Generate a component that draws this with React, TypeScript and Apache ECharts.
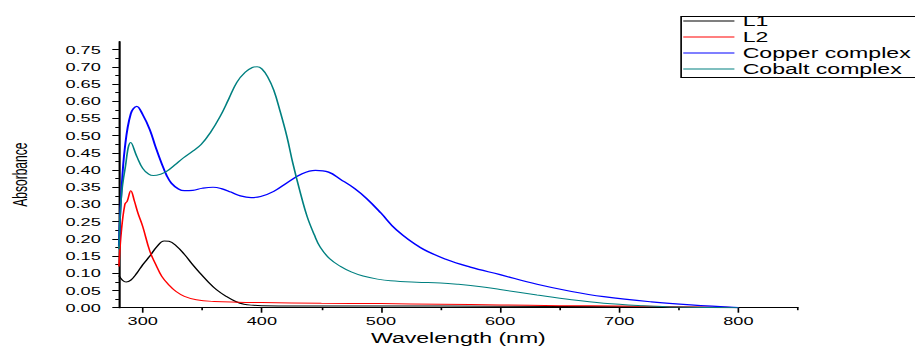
import React, { useEffect, useRef } from "react";
import * as echarts from "echarts";

// ---- data ----
const l1Wavelength = [280, 283, 286, 290, 295, 300, 306, 312, 318, 322, 328, 335, 342, 348, 355, 362, 370, 378, 385, 393, 400, 450, 500, 600, 700, 800];
const l1Absorbance = [0.093, 0.08, 0.075, 0.08, 0.1, 0.125, 0.15, 0.178, 0.194, 0.193, 0.18, 0.155, 0.125, 0.101, 0.075, 0.052, 0.033, 0.018, 0.01, 0.007, 0.006, 0.005, 0.005, 0.004, 0.003, 0.0];

const l2Wavelength = [280, 282, 285, 287, 290, 293, 296, 300, 306, 311, 316, 322, 328, 335, 345, 360, 380, 400, 450, 500, 550, 600, 650, 700, 750, 790, 800];
const l2Absorbance = [0.12, 0.22, 0.3, 0.31, 0.34, 0.31, 0.275, 0.236, 0.164, 0.125, 0.091, 0.066, 0.047, 0.033, 0.023, 0.018, 0.016, 0.015, 0.013, 0.012, 0.01, 0.008, 0.006, 0.005, 0.003, 0.001, 0.0];

const copperWavelength = [280, 282, 285, 290, 295, 300, 306, 311, 316, 320, 324, 330, 335, 342, 350, 359, 366, 374, 382, 391, 399, 410, 422, 433, 445, 456, 466, 478, 488, 500, 513, 533, 555, 575, 600, 631, 660, 687, 727, 760, 800];
const copperAbsorbance = [0.18, 0.33, 0.464, 0.564, 0.585, 0.561, 0.517, 0.465, 0.418, 0.385, 0.362, 0.345, 0.34, 0.341, 0.347, 0.35, 0.346, 0.336, 0.325, 0.32, 0.323, 0.338, 0.365, 0.388, 0.399, 0.394, 0.373, 0.346, 0.317, 0.275, 0.226, 0.175, 0.14, 0.118, 0.096, 0.068, 0.047, 0.032, 0.017, 0.008, 0.0];

const cobaltWavelength = [280, 282, 285, 290, 295, 300, 305, 309, 315, 320, 327, 334, 342, 349, 357, 365, 372, 379, 386, 392, 396, 400, 405, 410, 415, 421, 426, 432, 438, 444, 449, 457, 466, 475, 485, 497, 508, 530, 550, 565, 584, 600, 631, 660, 687, 720, 750, 800];
const cobaltAbsorbance = [0.17, 0.32, 0.4, 0.48, 0.44, 0.405, 0.388, 0.384, 0.388, 0.396, 0.415, 0.435, 0.455, 0.474, 0.51, 0.556, 0.605, 0.655, 0.684, 0.698, 0.7, 0.694, 0.67, 0.632, 0.575, 0.498, 0.42, 0.338, 0.265, 0.212, 0.176, 0.142, 0.12, 0.104, 0.092, 0.083, 0.078, 0.074, 0.072, 0.068, 0.061, 0.053, 0.037, 0.023, 0.013, 0.006, 0.002, 0.0];

const seriesNames = ["L1", "L2", "Copper complex", "Cobalt complex"];
const seriesColors = ["#000000", "#ff0000", "#0000ff", "#008080"];

const xMajorTicks = [300, 400, 500, 600, 700, 800];
const xMinorTicks = [350, 450, 550, 650, 750, 850];
const yMajorTicks = [0, 0.05, 0.1, 0.15, 0.2, 0.25, 0.3, 0.35, 0.4, 0.45, 0.5, 0.55, 0.6, 0.65, 0.7, 0.75];
const yMinorTicks = [0.025, 0.075, 0.125, 0.175, 0.225, 0.275, 0.325, 0.375, 0.425, 0.475, 0.525, 0.575, 0.625, 0.675, 0.725];

const zip = (xs: number[], ys: number[]) => xs.map((x, i) => [x, ys[i]]);

// the reference picture is horizontally stretched; draw narrow and stretch
const S = 1.65;
const W = 915 / S;
const H = 347;
const FONT = "'Liberation Sans', Arial, sans-serif";

export default function App() {
  const ref = useRef<HTMLDivElement>(null);

  useEffect(() => {
    if (!ref.current) return;
    const chart = echarts.init(ref.current, null, { renderer: "svg" });
    const gridLeft = 118.9 / S;
    const gridWidth = 679 / S;
    const datasets = [
      zip(l1Wavelength, l1Absorbance),
      zip(l2Wavelength, l2Absorbance),
      zip(copperWavelength, copperAbsorbance),
      zip(cobaltWavelength, cobaltAbsorbance),
    ];
    chart.setOption({
      animation: false,
      backgroundColor: "#ffffff",
      textStyle: { fontFamily: FONT, color: "#000" },
      grid: { left: gridLeft, top: 41.7, width: gridWidth, height: 266, containLabel: false, outerBoundsMode: "none" },
      legend: {
        data: seriesNames,
        orient: "vertical",
        left: 414.1,
        top: 13,
        padding: 0,
        itemGap: 0,
        itemWidth: 31,
        itemHeight: 1.2,
        icon: "rect",
        textStyle: { fontSize: 14, lineHeight: 16, color: "#000", fontFamily: FONT },
      },
      graphic: [
        {
          type: "rect",
          left: 410.3,
          top: 14,
          shape: { width: 200, height: 61 },
          style: { fill: "none", stroke: "#000", lineWidth: 1 },
          silent: true,
        },
      ],
      xAxis: [
        {
          type: "value",
          min: 280,
          max: 850,
          position: "bottom",
          name: "Wavelength (nm)",
          nameLocation: "middle",
          nameGap: 24,
          nameTextStyle: { fontSize: 14, color: "#000", fontFamily: FONT },
          axisLine: { show: true, onZero: false, lineStyle: { color: "#000", width: 1.2 } },
          axisTick: { show: true, customValues: xMajorTicks, length: 5, lineStyle: { color: "#000", width: 1 } },
          axisLabel: { show: true, customValues: xMajorTicks, fontSize: 11, margin: 8, color: "#000", fontFamily: FONT },
          splitLine: { show: false },
        },
        {
          type: "value",
          min: 280,
          max: 850,
          position: "bottom",
          axisLine: { show: false },
          axisTick: { show: true, customValues: xMinorTicks, length: 2.5, lineStyle: { color: "#000", width: 1 } },
          axisLabel: { show: false },
          splitLine: { show: false },
        },
      ],
      yAxis: [
        {
          type: "value",
          min: 0,
          max: 0.773,
          position: "left",
          name: "Absorbance",
          nameLocation: "middle",
          nameGap: 54,
          nameTextStyle: { fontSize: 12, color: "#000", fontFamily: FONT },
          axisLine: { show: true, onZero: false, lineStyle: { color: "#000", width: 1.3 } },
          axisTick: { show: true, customValues: yMajorTicks, length: 4, lineStyle: { color: "#000", width: 1 } },
          axisLabel: {
            show: true,
            customValues: yMajorTicks,
            fontSize: 11,
            margin: 11,
            color: "#000",
            fontFamily: FONT,
            formatter: (v: number) => v.toFixed(2),
          },
          splitLine: { show: false },
        },
        {
          type: "value",
          min: 0,
          max: 0.773,
          position: "left",
          axisLine: { show: false },
          axisTick: { show: true, customValues: yMinorTicks, length: 2.2, lineStyle: { color: "#000", width: 1 } },
          axisLabel: { show: false },
          splitLine: { show: false },
        },
      ],
      series: seriesNames.map((name, i) => ({
        name,
        type: "line",
        xAxisIndex: 0,
        yAxisIndex: 0,
        data: datasets[i],
        showSymbol: false,
        symbol: "none",
        smooth: 0.4,
        color: seriesColors[i],
        lineStyle: { color: seriesColors[i], width: i === 2 ? 1.2 : 1 },
        itemStyle: { color: seriesColors[i] },
      })),
    });
    return () => chart.dispose();
  }, []);

  return (
    <div style={{ position: "fixed", left: 0, top: 0, width: 915, height: 347, overflow: "hidden", background: "#fff" }}>
      <div
        ref={ref}
        style={{ width: W, height: H, transform: `scaleX(${S})`, transformOrigin: "0 0" }}
      />
    </div>
  );
}
